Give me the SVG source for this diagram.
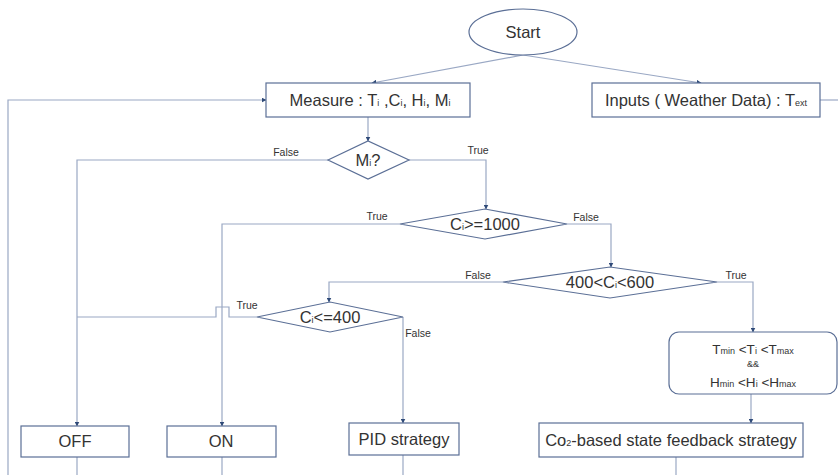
<svg xmlns="http://www.w3.org/2000/svg" width="838" height="475" viewBox="0 0 838 475">
<defs>
<marker id="ah" viewBox="0 0 10 10" refX="9" refY="5" markerWidth="5" markerHeight="5" orient="auto" markerUnits="userSpaceOnUse">
<path d="M0,0 L10,5 L0,10 z" fill="#2f4a78"/>
</marker>
<style>
.shape{fill:#ffffff;stroke:#5b6f96;stroke-width:1.2}
.line{fill:none;stroke:#9aa8c4;stroke-width:1.2}
.arr{marker-end:url(#ah)}
text{font-family:"Liberation Sans","DejaVu Sans",sans-serif;fill:#333333;text-anchor:middle}
.t{font-size:16.5px}
.lbl{font-size:10.5px}
.s{font-size:9px}
.sm{font-size:13.5px}
.ss{font-size:9px}
</style>
</defs>
<rect width="838" height="475" fill="#ffffff"/>
<g id="connectors">
<path class="line arr" d="M523,55 L372,83"/>
<path class="line arr" d="M523,55 L701,83"/>
<path class="line" d="M820,100 L838,100"/>
<path class="line arr" d="M8,475 L8,100 L266,100"/>
<path class="line arr" d="M368,117 L368,141"/>
<path class="line arr" d="M328,160 L77,160 L77,426"/>
<path class="line arr" d="M409,160 L486,160 L486,209"/>
<path class="line arr" d="M400,224 L222,224 L222,426"/>
<path class="line arr" d="M567,224 L611,224 L611,267"/>
<path class="line arr" d="M503,282 L329,282 L329,302"/>
<path class="line arr" d="M717,282 L753,282 L753,332"/>
<path class="line" d="M257,317 L229,317 L229,307 L216,307 L216,317 L77,317"/>
<path class="line arr" d="M403,317 L403,423"/>
<path class="line arr" d="M751,394 L751,423"/>
<path class="line" d="M77,457 L77,475"/>
<path class="line" d="M222,457 L222,475"/>
<path class="line" d="M403,455 L403,475"/>
<path class="line" d="M676,457 L676,475"/>
<text class="lbl" x="286" y="156">False</text>
<text class="lbl" x="478" y="154">True</text>
<text class="lbl" x="377" y="220">True</text>
<text class="lbl" x="586" y="221">False</text>
<text class="lbl" x="478" y="279">False</text>
<text class="lbl" x="736" y="279">True</text>
<text class="lbl" x="247" y="309">True</text>
<text class="lbl" x="418" y="337">False</text>
</g>
<g id="start">
<ellipse class="shape" cx="523" cy="32" rx="54" ry="23"/>
<text class="t" x="523" y="38">Start</text>
</g>
<g id="measure">
<rect class="shape" x="266" y="83" width="204" height="34"/>
<text class="t" x="370" y="106">Measure : T<tspan class="s">i</tspan> ,C<tspan class="s">i</tspan>, H<tspan class="s">i</tspan>, M<tspan class="s">i</tspan></text>
</g>
<g id="inputs">
<rect class="shape" x="592" y="83" width="228" height="34"/>
<text class="t" x="706" y="106">Inputs ( Weather Data) : T<tspan class="s">ext</tspan></text>
</g>
<g id="d-mi">
<path class="shape" d="M328,160 L368,141 L409,160 L368,179 z"/>
<text class="t" x="368" y="166">M<tspan class="s">i</tspan>?</text>
</g>
<g id="d-c1000">
<path class="shape" d="M400,224 L485,209 L567,224 L485,239 z"/>
<text class="t" x="485" y="230">C<tspan class="s">i</tspan>&gt;=1000</text>
</g>
<g id="d-c400600">
<path class="shape" d="M503,282 L610,267 L717,282 L610,298 z"/>
<text class="t" x="610" y="288">400&lt;C<tspan class="s">i</tspan>&lt;600</text>
</g>
<g id="d-c400">
<path class="shape" d="M257,317 L330,302 L403,317 L330,332 z"/>
<text class="t" x="330" y="323">C<tspan class="s">i</tspan>&lt;=400</text>
</g>
<g id="cond">
<rect class="shape" x="669" y="332" width="168" height="62" rx="10" ry="10"/>
<text class="sm" x="753" y="354">T<tspan class="ss">min</tspan> &lt;T<tspan class="ss">i</tspan> &lt;T<tspan class="ss">max</tspan></text>
<text class="ss" x="753" y="367">&amp;&amp;</text>
<text class="sm" x="753" y="387">H<tspan class="ss">min</tspan> &lt;H<tspan class="ss">i</tspan> &lt;H<tspan class="ss">max</tspan></text>
</g>
<g id="off">
<rect class="shape" x="21" y="426" width="108" height="31"/>
<text class="t" x="75" y="447">OFF</text>
</g>
<g id="on">
<rect class="shape" x="167" y="426" width="109" height="31"/>
<text class="t" x="221" y="447">ON</text>
</g>
<g id="pid">
<rect class="shape" x="349" y="423" width="110" height="32"/>
<text class="t" x="404" y="445">PID strategy</text>
</g>
<g id="co2">
<rect class="shape" x="539" y="423" width="264" height="34"/>
<text class="t" x="671" y="446">Co<tspan class="s">2</tspan>-based state feedback strategy</text>
</g>
</svg>
